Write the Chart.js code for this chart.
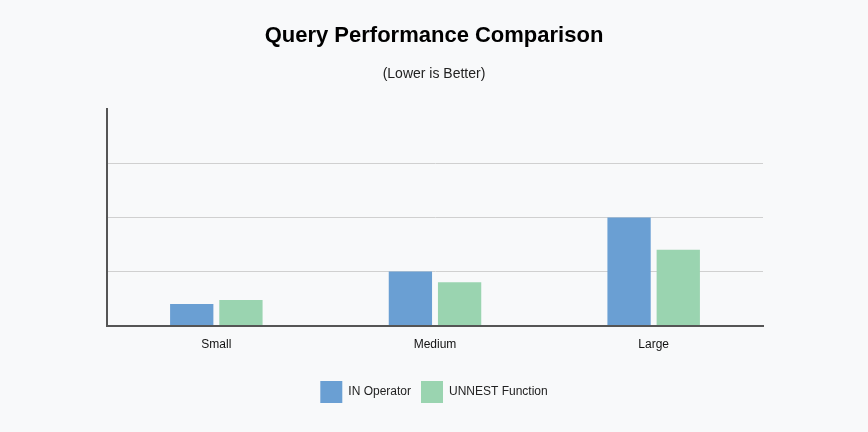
<!DOCTYPE html>
<html><head><script src="https://cdn.jsdelivr.net/npm/chart.js"></script>
<style>html,body{margin:0;background:#f8f9fa}#w{width:868px;height:432px}</style></head>
<body><div id="w"><canvas id="c"></canvas></div>
<script>
const categories=["Small","Medium","Large"];
const inOperator=[8,20,40];
const unnestFunction=[9.5,16,28];
const yTicks=[0,20,40,60];
Chart.defaults.font.family="Liberation Sans, Arial, sans-serif";
new Chart(document.getElementById('c'),{type:'bar',
data:{labels:categories,datasets:[
{label:'IN Operator',data:inOperator,backgroundColor:'#6a9fd3'},
{label:'UNNEST Function',data:unnestFunction,backgroundColor:'#9ad4b0'}]},
options:{responsive:true,maintainAspectRatio:false,animation:false,
layout:{padding:{left:105,right:105,top:0,bottom:0}},
datasets:{bar:{categoryPercentage:0.45,barPercentage:0.88}},
plugins:{title:{display:true,text:'Query Performance Comparison',color:'#000',font:{size:22,weight:'bold'},padding:{top:23,bottom:16}},
subtitle:{display:true,text:'(Lower is Better)',color:'#222',font:{size:14},padding:{bottom:27}},
legend:{position:'bottom',afterFit:l=>{},labels:{boxWidth:22,boxHeight:22,color:'#222',font:{size:12},padding:10}},
tooltip:{enabled:false}},
scales:{x:{grid:{display:false},border:{color:'#555',width:2},ticks:{color:'#111',font:{size:12},padding:4},afterFit:s=>{s.height+=15}},
y:{min:0,max:80,border:{color:'#555',width:2},afterFit:s=>{s.width=2},
grid:{color:c=>(c.tick.value===0||c.tick.value===80)?'transparent':'#d0d0d0',drawTicks:false},
ticks:{stepSize:20,padding:10,color:'#111',font:{size:12},callback:v=>yTicks.includes(v)?v+'ms':''}}}},
plugins:[{id:'lg',beforeInit(ch){const L=ch.legend;}}]});
// extend legend height
Chart.registry.plugins.get('legend');
</script>
<script>
// adjust legend box after first layout via a redraw with larger legend
const ch=Chart.getChart('c');
const origFit=ch.legend.fit.bind(ch.legend);
ch.legend.fit=function(){origFit();this.height+=19;};
ch.update();
</script></body></html>
